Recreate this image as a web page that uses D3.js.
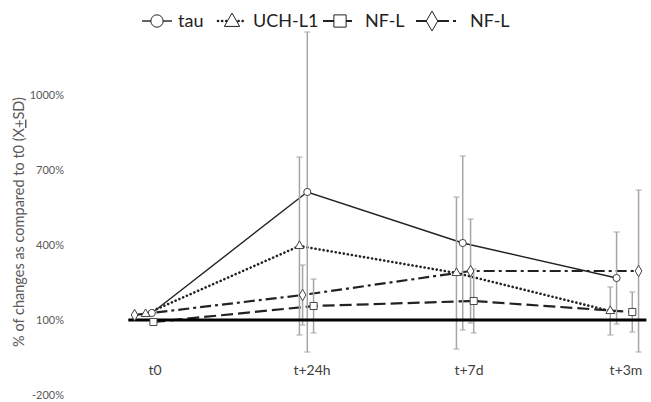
<!DOCTYPE html>
<html>
<head>
<meta charset="utf-8">
<script src="https://cdn.jsdelivr.net/npm/d3@7"></script>
<style>
  body { margin: 0; background: #fff; }
  svg { display: block; font-family: Lato, "Open Sans", sans-serif; }
</style>
</head>
<body>
<div id="chart"></div>
<script>
(function() {
    const timepoints = ['t0', 't+24h', 't+7d', 't+3m'];
    const yTicks = [-200, 100, 400, 700, 1000];

    // x position of each point, in timepoint units (the series are shifted a bit)
    const tauX = [-0.02, 0.97, 1.96, 2.94];
    const tauMean = [128, 612, 408, 268];
    const tauSD = [null, 640, 348, 184];

    const uchX = [-0.06, 0.92, 1.92, 2.90];
    const uchMean = [124, 396, 288, 136];
    const uchSD = [null, 356, 304, 96];

    const nflX = [-0.01, 1.01, 2.03, 3.04];
    const nflMean = [92, 156, 176, 132];
    const nflSD = [null, 108, 128, 80];

    const nfl2X = [-0.13, 0.94, 2.01, 3.08];
    const nfl2Mean = [120, 200, 296, 296];
    const nfl2SD = [null, 120, 208, 324];

    const baseline = 100;
    const baselineExtent = [-0.17, 3.13];

    const series = [
        { name: 'tau', xs: tauX, mean: tauMean, sd: tauSD, dash: null, width: 1.4, symbol: d3.symbolCircle, size: 40, cap: 'butt' },
        { name: 'UCH-L1', xs: uchX, mean: uchMean, sd: uchSD, dash: '0.1 4', width: 2.6, symbol: d3.symbolTriangle, size: 34, cap: 'round' },
        { name: 'NF-L', xs: nflX, mean: nflMean, sd: nflSD, dash: '12 5', width: 2.2, symbol: d3.symbolSquare, size: 50, cap: 'butt' },
        { name: 'NF-L', xs: nfl2X, mean: nfl2Mean, sd: nfl2SD, dash: '11 4 3 4', width: 2.2, symbol: d3.symbolDiamond, size: 38, cap: 'butt' }
    ];

    const W = 651, H = 402;
    const svg = d3.select('#chart').append('svg').attr('width', W).attr('height', H);

    const x = d3.scaleLinear().domain([0, 3]).range([155, 626]);
    const y = d3.scaleLinear().domain([-200, 1000]).range([395, 95]);

    // y tick labels (no axis line)
    svg.append('g').selectAll('text').data(yTicks).enter().append('text')
        .attr('x', 64).attr('y', d => y(d)).attr('dy', '0.35em')
        .attr('text-anchor', 'end').style('font-size', '11px').style('fill', '#595959')
        .text(d => d + '%');

    // x labels
    svg.append('g').selectAll('text').data(timepoints).enter().append('text')
        .attr('x', (d, i) => x(i)).attr('y', 370).attr('dy', '0.35em')
        .attr('text-anchor', 'middle').style('font-size', '14px').style('fill', '#404040')
        .text(d => d);

    // y title
    const yt = svg.append('text').attr('transform', `translate(24, ${y(492)}) rotate(-90)`)
        .attr('text-anchor', 'middle').style('font-size', '14.5px').style('fill', '#595959');
    yt.append('tspan').text('% of changes as compared to t0 (X');
    yt.append('tspan').style('text-decoration', 'underline').text('+');
    yt.append('tspan').text('SD)');

    const line = d3.line().x(d => x(d.x)).y(d => y(d.v));
    const pts = s => s.mean.map((v, i) => ({ x: s.xs[i], v, sd: s.sd[i] }));

    // series lines
    series.forEach(s => {
        svg.append('path').datum(pts(s)).attr('d', line)
            .attr('fill', 'none').attr('stroke', '#222').attr('stroke-width', s.width)
            .attr('stroke-dasharray', s.dash).attr('stroke-linecap', s.cap);
    });

    // error bars
    const eb = svg.append('g').attr('stroke', '#a6a6a6').attr('stroke-width', 1.5);
    series.forEach(s => {
        pts(s).filter(d => d.sd != null).forEach(d => {
            const cx = x(d.x), y1 = y(d.v + d.sd), y2 = y(d.v - d.sd);
            eb.append('line').attr('x1', cx).attr('x2', cx).attr('y1', y1).attr('y2', y2);
            eb.append('line').attr('x1', cx - 3).attr('x2', cx + 3).attr('y1', y1).attr('y2', y1).attr('stroke-width', 1);
            eb.append('line').attr('x1', cx - 3).attr('x2', cx + 3).attr('y1', y2).attr('y2', y2).attr('stroke-width', 1);
        });
    });

    // 100% reference line
    svg.append('line')
        .attr('x1', x(baselineExtent[0])).attr('x2', x(baselineExtent[1]))
        .attr('y1', y(baseline)).attr('y2', y(baseline))
        .attr('stroke', '#000').attr('stroke-width', 3);

    // markers
    series.forEach(s => {
        svg.append('g').selectAll('path').data(pts(s)).enter().append('path')
            .attr('d', d3.symbol().type(s.symbol).size(s.size))
            .attr('transform', d => `translate(${x(d.x)}, ${y(d.v)})`)
            .attr('fill', '#fff').attr('stroke', '#444').attr('stroke-width', 1);
    });

    // legend
    const legendX = [142, 218, 323, 416];
    const legendW = [30, 28, 34, 44];
    const legendTextX = [178, 253, 365, 470];
    const lg = svg.append('g');
    series.forEach((s, i) => {
        const g = lg.append('g');
        g.append('line').attr('x1', legendX[i]).attr('x2', legendX[i] + legendW[i])
            .attr('y1', 21).attr('y2', 21)
            .attr('stroke', '#222').attr('stroke-width', s.width).attr('stroke-dasharray', s.dash)
            .attr('stroke-linecap', s.cap);
        g.append('path').attr('d', d3.symbol().type(s.symbol).size(s.size * 3))
            .attr('transform', `translate(${legendX[i] + (i === 3 ? 16 : legendW[i] / 2)}, ${i === 1 ? 22 : 21})`)
            .attr('fill', '#fff').attr('stroke', '#222').attr('stroke-width', 1);
        g.append('text').attr('x', legendTextX[i]).attr('y', 21).attr('dy', '0.35em')
            .style('font-size', '18px').style('fill', '#222').text(s.name);
    });
})();
</script>
</body>
</html>
